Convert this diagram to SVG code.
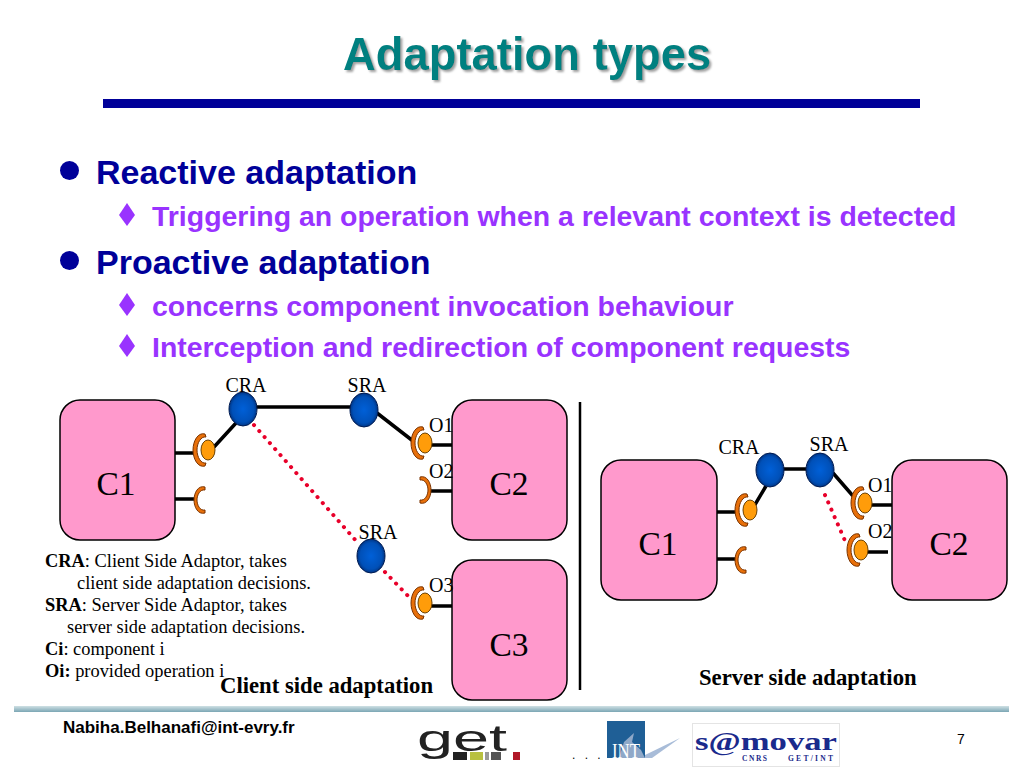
<svg xmlns="http://www.w3.org/2000/svg" xmlns:xlink="http://www.w3.org/1999/xlink" width="1024" height="768" viewBox="0 0 1024 768">
<style>
text{font-family:"Liberation Sans",Arial,sans-serif}
.title{font-size:45.4px;font-weight:bold;fill:#008080;filter:url(#sh)}
.b1{font-size:34px;font-weight:bold;fill:#000099}
.b2{font-size:28.45px;font-weight:bold;fill:#9933ff}
.s{font-family:"Liberation Serif",serif;fill:#000}
.lab{font-size:20px}
.cn{font-size:33.5px}
.leg{font-size:18.4px}
.cap{font-size:22.7px;font-weight:bold}
.box{fill:#ff99cc;stroke:#000;stroke-width:1.5}
.w{stroke:#000;stroke-width:3.5;fill:none;stroke-linecap:butt}
.d{stroke:#e8002a;stroke-width:4;stroke-dasharray:0.1 7.9;stroke-linecap:round;fill:none}
.sock{fill:#e8700a;stroke:#7a3300;stroke-width:1}
.ball{fill:#ff9c0a;stroke:#6b4000;stroke-width:1}
.sph{fill:url(#g);stroke:#001a50;stroke-width:1}
.sam{font-family:"Liberation Serif",serif;font-weight:bold;fill:#1a2a8c}
</style>
<defs>
<filter id="sh" x="-5%" y="-20%" width="110%" height="140%"><feDropShadow dx="2" dy="2" stdDeviation="0.8" flood-color="#a0a0a0"/></filter>
<radialGradient id="g" cx="0.5" cy="0.5" r="0.55"><stop offset="0" stop-color="#0060d8"/><stop offset="0.7" stop-color="#0050b8"/><stop offset="1" stop-color="#002a70"/></radialGradient>
<linearGradient id="band" x1="0" y1="0" x2="0" y2="1"><stop offset="0" stop-color="#cfe0e4"/><stop offset="1" stop-color="#7ba6b4"/></linearGradient>
<path id="sL" class="sock" d="M11 -16 C4 -18 -1 -9 -1 0 C-1 9 4 18 11 16 L12 13 C7 14 3 7 3 0 C3 -7 7 -14 12 -13 Z"/>
<path id="sS" class="sock" d="M11 -13 C4 -15 0 -7 0 0 C0 7 4 15 11 13 L11 10 C6 11 3 5 3 0 C3 -5 6 -11 11 -10 Z"/>
</defs>
<rect width="1024" height="768" fill="#fff"/>
<text class="title" x="343" y="70">Adaptation types</text>
<rect x="103" y="99" width="817" height="9" fill="#000099"/>
<g id="bullets">
<circle cx="69.500" cy="170.500" r="9.500" fill="#000099"/>
<text class="b1" x="96" y="183.500">Reactive adaptation</text>
<path d="M127 203 L135 215 L127 226 L119 215 Z" fill="#9933ff"/>
<text class="b2" x="152" y="225.500">Triggering an operation when a relevant context is detected</text>
<circle cx="69.500" cy="260.500" r="9.500" fill="#000099"/>
<text class="b1" x="96" y="273.500">Proactive adaptation</text>
<path d="M127 293 L135 305 L127 316 L119 305 Z" fill="#9933ff"/>
<text class="b2" x="152" y="315.500">concerns component invocation behaviour</text>
<path d="M127 334 L135 346 L127 357 L119 346 Z" fill="#9933ff"/>
<text class="b2" x="152" y="356.500">Interception and redirection of component requests</text>
</g>
<g id="connectors">
<path class="w" d="M175 453H195M175 499H195M430 445H452M430 491H452M430 606H452M717 512H737M717 559H737M870 505H892M866 552H888"/>
<path class="w" d="M243 407H364M236 423L214 447M377 413L413 441M766 486L753 508M783 469H806M833 473L853 496"/>
<path class="d" d="M254 425L358 543M385 572L411 599M825 495L846 543"/>
<line x1="580" y1="402" x2="580" y2="690" stroke="#000" stroke-width="2.500"/>
</g>
<g id="left-c1"><rect class="box" x="60" y="400" width="115" height="140" rx="20"/><text class="s cn" x="116" y="495" text-anchor="middle">C1</text></g>
<g id="left-c2"><rect class="box" x="452" y="400" width="115" height="140" rx="20"/><text class="s cn" x="509" y="495" text-anchor="middle">C2</text></g>
<g id="left-c3"><rect class="box" x="452" y="560" width="115" height="140" rx="20"/><text class="s cn" x="509" y="656" text-anchor="middle">C3</text></g>
<g id="right-c1"><rect class="box" x="601" y="460" width="116" height="140" rx="20"/><text class="s cn" x="658" y="555" text-anchor="middle">C1</text></g>
<g id="right-c2"><rect class="box" x="892" y="460" width="115" height="140" rx="20"/><text class="s cn" x="949" y="555" text-anchor="middle">C2</text></g>
<g id="left-cra"><ellipse class="sph" cx="243" cy="409" rx="14" ry="17"/><text class="s lab" x="246" y="392" text-anchor="middle">CRA</text></g>
<g id="left-sra"><ellipse class="sph" cx="364" cy="410" rx="14" ry="17"/><text class="s lab" x="367" y="392" text-anchor="middle">SRA</text></g>
<g id="left-sra2"><ellipse class="sph" cx="371" cy="556" rx="14" ry="17"/><text class="s lab" x="378" y="539" text-anchor="middle">SRA</text></g>
<g id="right-cra"><ellipse class="sph" cx="770" cy="470" rx="14" ry="17"/><text class="s lab" x="739" y="454" text-anchor="middle">CRA</text></g>
<g id="right-sra"><ellipse class="sph" cx="820" cy="470" rx="14" ry="17"/><text class="s lab" x="829" y="451" text-anchor="middle">SRA</text></g>
<g id="left-req1"><use xlink:href="#sL" href="#sL" x="194" y="450"/><ellipse class="ball" cx="208" cy="450" rx="7" ry="10"/></g>
<g id="left-req2"><use xlink:href="#sS" href="#sS" x="194" y="500"/></g>
<g id="left-o1"><use xlink:href="#sL" href="#sL" x="412" y="443"/><ellipse class="ball" cx="425" cy="443" rx="7" ry="10"/><text class="s lab" x="429" y="432">O1</text></g>
<g id="left-o2"><use xlink:href="#sS" href="#sS" transform="translate(431 490) scale(-1 1)"/><text class="s lab" x="429" y="478">O2</text></g>
<g id="left-o3"><use xlink:href="#sL" href="#sL" x="412" y="603"/><ellipse class="ball" cx="425" cy="603" rx="7" ry="10"/><text class="s lab" x="429" y="592">O3</text></g>
<g id="right-req1"><use xlink:href="#sL" href="#sL" x="736" y="510"/><ellipse class="ball" cx="750" cy="510" rx="7" ry="10"/></g>
<g id="right-req2"><use xlink:href="#sS" href="#sS" x="735" y="560"/></g>
<g id="right-o1"><use xlink:href="#sL" href="#sL" x="852" y="503"/><ellipse class="ball" cx="865" cy="503" rx="7" ry="10"/><text class="s lab" x="868" y="492">O1</text></g>
<g id="right-o2"><use xlink:href="#sL" href="#sL" x="848" y="550"/><ellipse class="ball" cx="861" cy="550" rx="7" ry="10"/><text class="s lab" x="868" y="538">O2</text></g>
<g id="legend">
<text class="s leg" x="45" y="567"><tspan font-weight="bold">CRA</tspan>: Client Side Adaptor, takes</text>
<text class="s leg" x="77" y="589">client side adaptation decisions.</text>
<text class="s leg" x="45" y="611"><tspan font-weight="bold">SRA</tspan>: Server Side Adaptor, takes</text>
<text class="s leg" x="67" y="633">server side adaptation decisions.</text>
<text class="s leg" x="45" y="655"><tspan font-weight="bold">Ci</tspan>: component i</text>
<text class="s leg" x="45" y="677"><tspan font-weight="bold">Oi:</tspan> provided operation i</text>
</g>
<text class="s cap" x="220" y="693">Client side adaptation</text>
<text class="s cap" x="699" y="685">Server side adaptation</text>
<g id="footer">
<rect x="14" y="706" width="995" height="6" fill="url(#band)"/>
<text x="63" y="733" font-size="17" font-weight="bold" fill="#000">Nabiha.Belhanafi@int-evry.fr</text>
<text x="961" y="744" font-size="14" text-anchor="middle" fill="#000">7</text>
<text x="417" y="751" font-size="36" fill="#222" textLength="90" lengthAdjust="spacingAndGlyphs">get</text>
<rect x="453" y="752" width="14" height="8" fill="#222"/><rect x="470" y="752" width="13" height="8" fill="#b8c040"/><rect x="485" y="752" width="4" height="8" fill="#999"/><rect x="491" y="752" width="10" height="8" fill="#555"/><rect x="513" y="752" width="7" height="8" fill="#b01828"/>
<text x="572" y="759" font-size="12" letter-spacing="3" fill="#000">. . .</text>
<rect x="607" y="721" width="38" height="37" fill="#1f5f96"/>
<path d="M619 758L624 742L634 733L632 742L641 750L645 758Z" fill="#8fa8c8"/>
<path d="M645 755L680 738L652 758L645 758Z" fill="#a8bcd8"/>
<text x="626" y="758" font-size="20" fill="#fff" text-anchor="middle" textLength="28" lengthAdjust="spacingAndGlyphs" style="font-family:'Liberation Serif',serif">INT</text>
<rect x="692.500" y="723.500" width="147" height="43" fill="#fff" stroke="#e4e4e4"/>
<text class="sam" x="695" y="750" textLength="142" lengthAdjust="spacingAndGlyphs" style="font-size:26px">s@movar</text>
<text class="sam" x="742" y="761" style="font-size:7.5px" textLength="25">CNRS</text>
<text class="sam" x="788" y="761" style="font-size:7.5px" textLength="45">GET/INT</text>
</g>
</svg>
